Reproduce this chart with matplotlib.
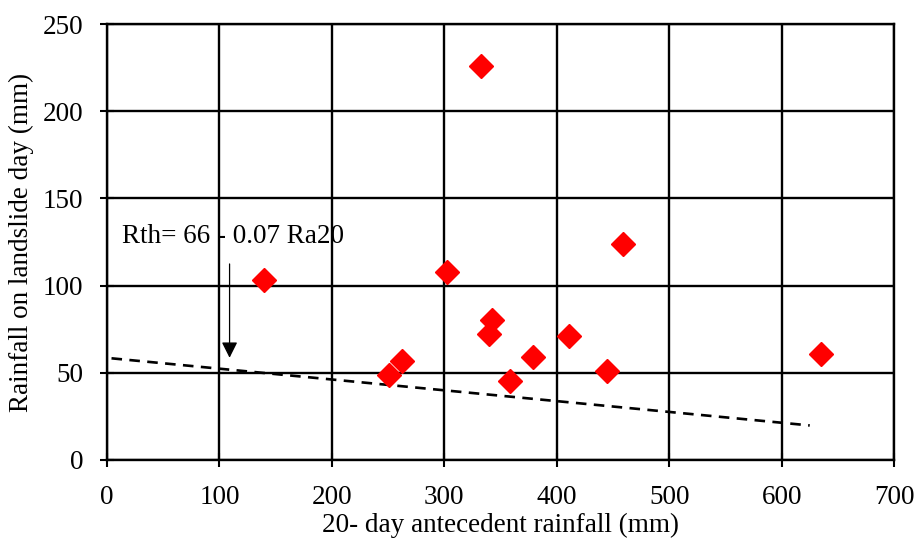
import matplotlib.pyplot as plt
import numpy as np

plt.rcParams['font.family'] = ['Liberation Serif', 'DejaVu Serif']

# datos
ra20 = [140, 333, 302, 459, 342, 340, 411, 379, 358, 262, 251, 445, 635]
rain = [103, 226, 108, 124, 80, 72, 71, 59, 45, 57, 49, 51, 61]
# linea umbral
line_x = [4, 625]
line_y = [58.3, 19.8]

fig = plt.figure(figsize=(9.17, 5.43), dpi=100)
ax = fig.add_axes([0.1167, 0.1529, 0.975 - 0.1167, 0.9558 - 0.1529])

ax.plot(line_x, line_y, '--', color='black', lw=1.9, dashes=(4, 2.8), zorder=3)
ax.plot(ra20, rain, 'D', color='red', ms=12, zorder=4)

ax.annotate('', xy=(109, 57), xytext=(109, 114),
            arrowprops=dict(arrowstyle='-|>', color='black', lw=0.9,
                            mutation_scale=24), zorder=5)
ax.text(13, 128, 'Rth= 66 - 0.07 Ra20', fontsize=19.5, va='center', ha='left',
        zorder=5)

ax.set_xlim(0, 700)
ax.set_ylim(0, 250)
ax.set_xticks(np.arange(0, 701, 100))
ax.set_yticks(np.arange(0, 251, 50))
ax.grid(True, color='black', lw=1.7)
ax.set_axisbelow(True)
for s in ax.spines.values():
    s.set_linewidth(1.7)
ax.tick_params(direction='inout', length=10, width=1.5, labelsize=19.5)
ax.tick_params(axis='x', pad=13)
ax.tick_params(axis='y', pad=12)
ax.set_xlabel('20- day antecedent rainfall (mm)', fontsize=19.5, labelpad=2)
ax.set_ylabel('Rainfall on landslide day (mm)', fontsize=19.5, labelpad=6)

plt.savefig('out.png', dpi=100)
